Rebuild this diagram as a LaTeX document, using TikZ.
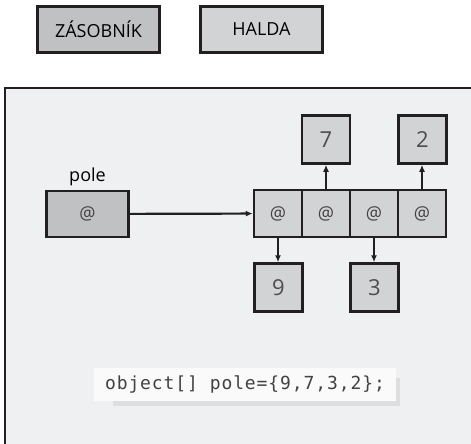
\documentclass[tikz,border=0pt]{standalone}
\usepackage{fontspec}
\setmainfont{Open Sans}
\setmonofont{DejaVu Sans Mono}
\usetikzlibrary{arrows.meta}
\definecolor{MemInk}{HTML}{231F20}
\definecolor{StackGray}{HTML}{C0C1C3}
\definecolor{HeapGray}{HTML}{D2D3D5}
\definecolor{PanelGray}{HTML}{EFF0F2}
\definecolor{CodeWhite}{HTML}{FAFAFA}
\definecolor{CodeShadow}{HTML}{DDDEE0}
\tikzset{
  stackbox/.style={draw=MemInk,fill=StackGray,line width=2.5pt,inner sep=0pt},
  heapbox/.style={draw=MemInk,fill=HeapGray,line width=2.5pt,inner sep=0pt},
  cell/.style={heapbox,minimum width=48pt,minimum height=47pt,font=\fontsize{18}{18}\selectfont\color{MemInk!85}},
  valbox/.style={heapbox,minimum width=48pt,minimum height=48pt,font=\fontsize{22}{22}\selectfont\color{MemInk!80}},
  ptr/.style={-{Latex[length=7pt,width=6pt]},MemInk,line width=2.2pt}
}
\begin{document}
\begin{tikzpicture}[x=1pt,y=-1pt,font=\fontsize{18}{18}\selectfont]
  \clip (0,0) rectangle (471,444);
  % legend
  \node[stackbox,minimum width=122pt,minimum height=46pt] (stack) at (98.5,29.5) {ZÁSOBNÍK};
  \node[heapbox,minimum width=122pt,minimum height=46pt] (heap) at (261.5,29.5) {HALDA};

  % memory panel
  \draw[MemInk,fill=PanelGray,line width=2pt] (4.5,87.5) rectangle (490,470);

  % variable on the stack
  \node[stackbox,minimum width=82pt,minimum height=46pt,font=\fontsize{18}{18}\selectfont\color{MemInk!85}] (pole) at (87.5,214) {@};
  \node[above=0pt] (polename) at (pole.north) {pole};

  % array of references on the heap
  \node[cell] (c1) at (278,213.5) {@};
  \node[cell] (c2) at (326,213.5) {@};
  \node[cell] (c3) at (374,213.5) {@};
  \node[cell] (c4) at (422,213.5) {@};

  % boxed values
  \node[valbox] (n7) at (326,139.5) {7};
  \node[valbox] (n2) at (422.5,139.5) {2};
  \node[valbox] (n9) at (278.5,287.5) {9};
  \node[valbox] (n3) at (374.5,287.5) {3};

  \draw[ptr] (pole) -- (c1);
  \draw[ptr] (c2) -- (n7);
  \draw[ptr] (c4.north) -- (n2.south -| c4.north);
  \draw[ptr] (c1.south) -- (n9.north -| c1.south);
  \draw[ptr] (c3.south) -- (n3.north -| c3.south);

  % declaration
  \fill[CodeShadow] (113,378) rectangle (400,406);
  \node[fill=CodeWhite,minimum width=302pt,minimum height=33pt,inner sep=0pt,
        font=\ttfamily\fontsize{18}{18}\selectfont\addfontfeature{LetterSpace=5}\color{MemInk!85}] (code) at (245,384) {object[] pole=\{9,7,3,2\};};
\end{tikzpicture}
\end{document}
